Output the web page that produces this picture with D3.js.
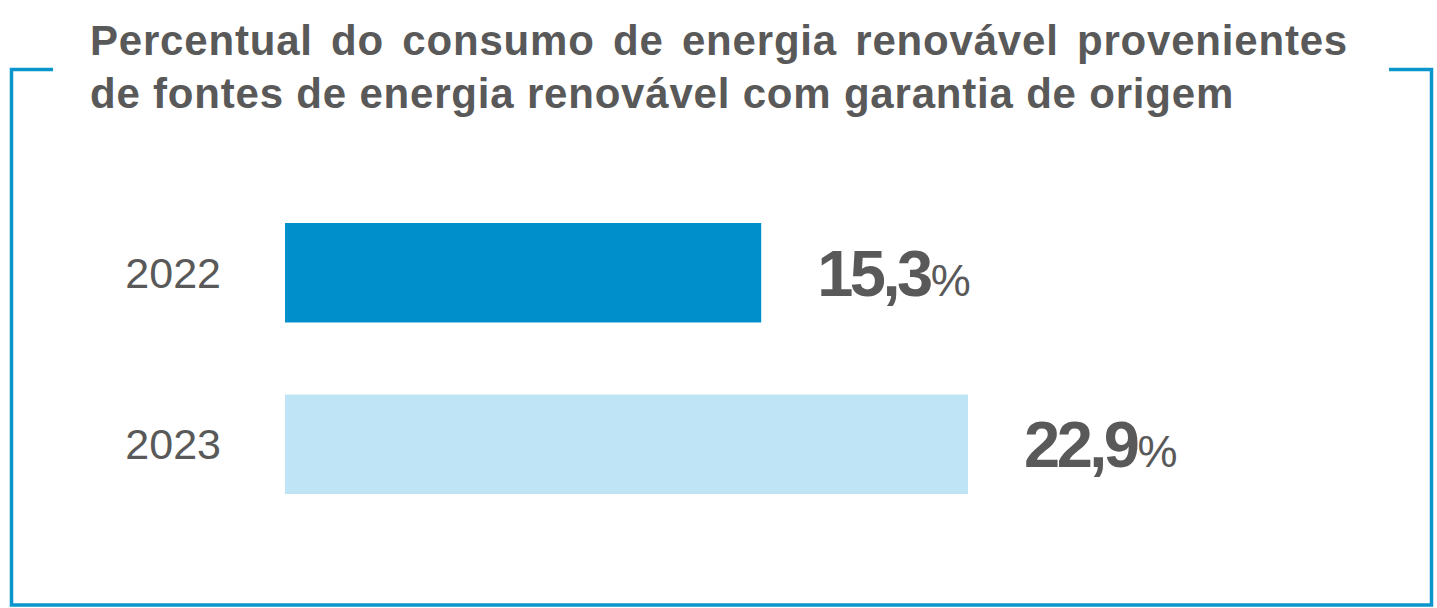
<!DOCTYPE html>
<html>
<head>
<meta charset="utf-8">
<script src="https://cdn.jsdelivr.net/npm/d3@7"></script>
<style>
  html, body { margin: 0; padding: 0; background: #ffffff; }
  svg { display: block; }
</style>
</head>
<body>
<svg id="chart" width="1437" height="608"></svg>
<script>
// ---- data ----
const titleLines = [
  "Percentual do consumo de energia renovável provenientes",
  "de fontes de energia renovável com garantia de origem"
];
const years = ["2022", "2023"];
const values = [15.3, 22.9];
const valueLabels = ["15,3", "22,9"];
const barColors = ["#008fca", "#bee4f6"];

// ---- layout ----
const W = 1437, H = 608;
const svg = d3.select("#chart");
const textColor = "#595959";
const frameColor = "#0a96cc";

// frame (open bracket-style box)
svg.append("path")
  .attr("d", "M53,69.5 L11.5,69.5 L11.5,605 L1431.5,605 L1431.5,69.5 L1389,69.5")
  .attr("fill", "none")
  .attr("stroke", frameColor)
  .attr("stroke-width", 3.5);

// title
const title = svg.append("g").attr("font-family", "Liberation Sans, Arial, sans-serif")
  .attr("font-weight", "bold").attr("font-size", 42).attr("letter-spacing", 0.8)
  .attr("fill", textColor);
const t1 = title.append("text").attr("x", 90).attr("y", 55).text(titleLines[0]);
const natural = t1.node().getComputedTextLength();
const nSpaces = titleLines[0].split(" ").length - 1;
t1.attr("word-spacing", (1258 - natural) / nSpaces);
title.append("text").attr("x", 90).attr("y", 108).text(titleLines[1]);

// scales
const x = d3.scaleLinear().domain([-2.2, 22.9]).range([285, 968]);
const y = d3.scaleBand().domain(years).range([223, 494]).paddingInner(0.42).paddingOuter(0);

// bars
svg.selectAll("rect.bar").data(years).join("rect")
  .attr("class", "bar")
  .attr("x", x(x.domain()[0]))
  .attr("y", d => y(d))
  .attr("width", (d, i) => x(values[i]) - x(x.domain()[0]))
  .attr("height", y.bandwidth())
  .attr("fill", (d, i) => barColors[i]);

// category axis labels
svg.selectAll("text.year").data(years).join("text")
  .attr("class", "year")
  .attr("x", 221)
  .attr("y", d => y(d) + y.bandwidth() / 2 + 15)
  .attr("text-anchor", "end")
  .attr("font-family", "Liberation Sans, Arial, sans-serif")
  .attr("font-size", 43)
  .attr("fill", textColor)
  .text(d => d);

// value labels
const vl = svg.selectAll("text.val").data(years).join("text")
  .attr("class", "val")
  .attr("x", (d, i) => x(values[i]) + 56)
  .attr("y", d => y(d) + y.bandwidth() / 2 + 23)
  .attr("font-family", "Liberation Sans, Arial, sans-serif")
  .attr("fill", textColor);
vl.append("tspan")
  .attr("font-weight", "bold")
  .attr("font-size", 65)
  .attr("letter-spacing", -3.5)
  .text((d, i) => valueLabels[i]);
vl.append("tspan")
  .attr("font-size", 45)
  .attr("dx", 1)
  .text("%");
</script>
</body>
</html>
